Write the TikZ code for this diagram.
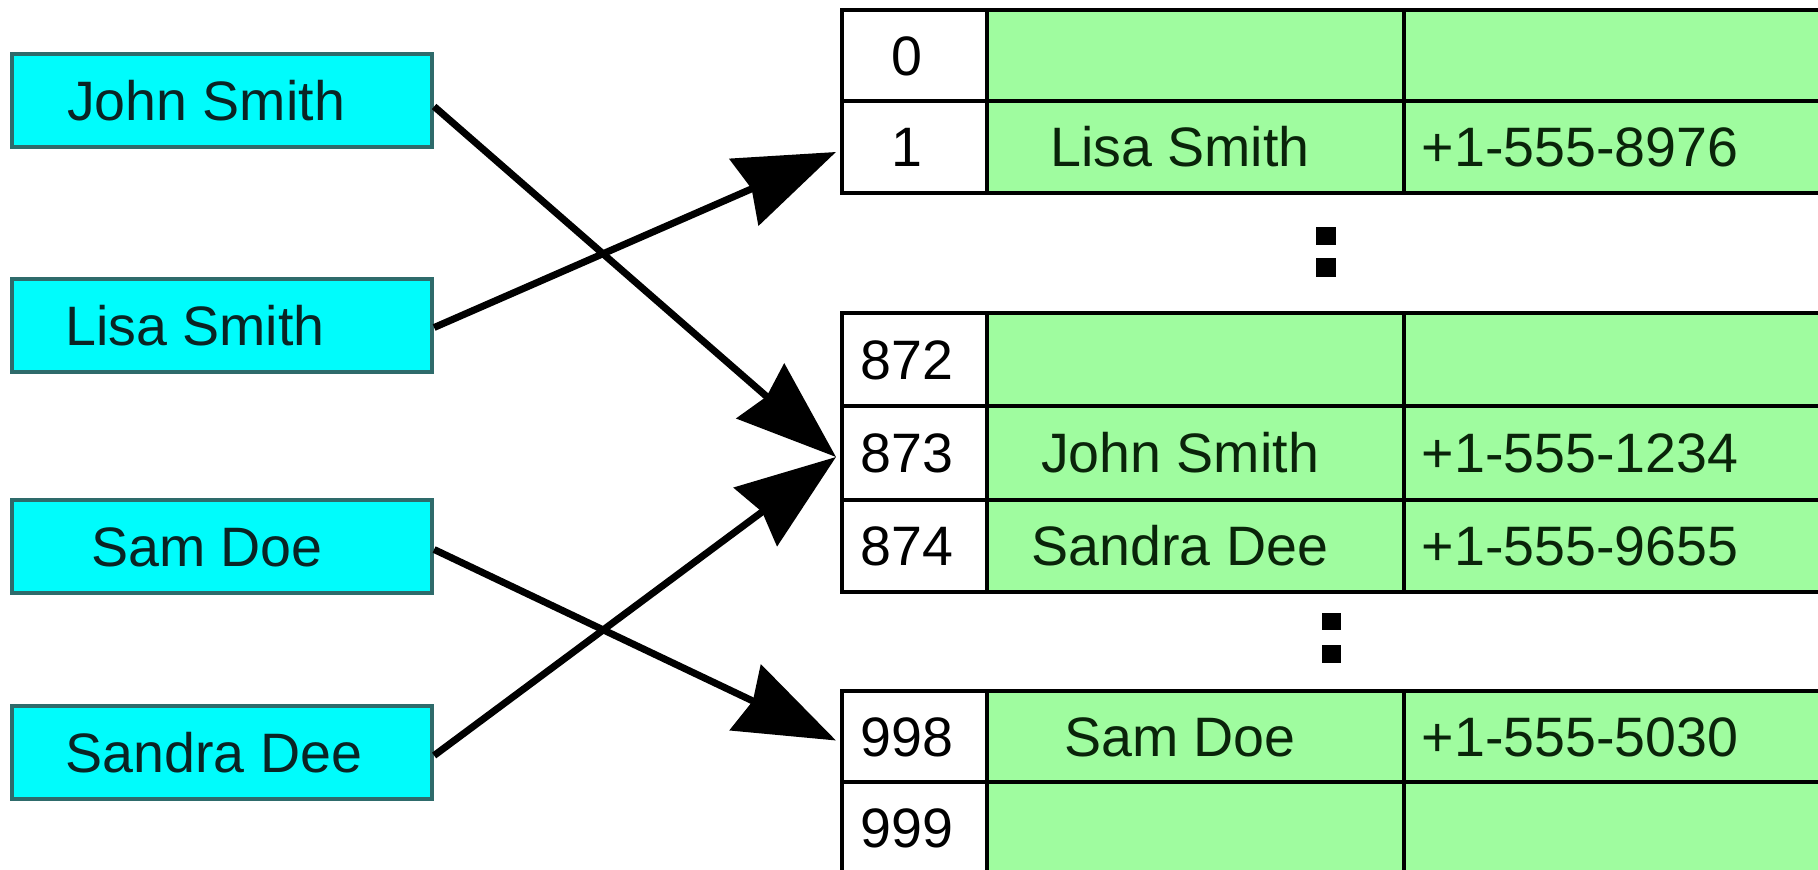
\documentclass[tikz,border=0pt]{standalone}
\usepackage{fontspec}
\setmainfont{Liberation Sans}
\usetikzlibrary{arrows.meta,calc,fit}
\definecolor{cyanfill}{HTML}{00FCFC}
\definecolor{cyanborder}{HTML}{2E6B6B}
\definecolor{greenfill}{HTML}{9FFC9F}
\definecolor{tealtext}{HTML}{0A2424}
\definecolor{greentext}{HTML}{0A240A}
\newcommand\tabrow[6]{%
  \node[idxcell, fit={(842,#2)(987,#3)}] (#1i) {};
  \node[grncell, fit={(987,#2)(1404,#3)}] (#1n) {};
  \node[grncell, fit={(1404,#2)(1850,#3)}] (#1p) {};
  \node[txt] (#1it) at (907,{(#2+#3)/2}) {#4};
  \node[txt, text=greentext] (#1nt) at (1180,{(#2+#3)/2}) {#5};
  \node[txt, text=greentext, anchor=west] (#1pt) at (1421,{(#2+#3)/2}) {#6};
}
\newcommand\emptyrow[4]{%
  \node[idxcell, fit={(842,#2)(987,#3)}] (#1i) {};
  \node[grncell, fit={(987,#2)(1404,#3)}] (#1n) {};
  \node[grncell, fit={(1404,#2)(1850,#3)}] (#1p) {};
  \node[txt] (#1it) at (907,{(#2+#3)/2}) {#4};
}
\begin{document}
\begin{tikzpicture}[x=0.01cm,y=-0.01cm,
  lbox/.style={draw=cyanborder, fill=cyanfill, line width=0.04cm, minimum width=4.2cm, minimum height=0.93cm, inner sep=0pt},
  txt/.style={inner sep=0pt, font=\fontsize{15.8}{19}\selectfont, text height=11.3pt, text depth=0pt},
  cell/.style={draw=black, line width=0.04cm, inner sep=0pt},
  idxcell/.style={cell, fill=white},
  grncell/.style={cell, fill=greenfill},
  arr/.style={line width=0.07cm, -{Stealth[length=1cm,width=0.72cm,inset=0.08cm]}},
]
\useasboundingbox (0,0) rectangle (1818,870);
\clip (0,0) rectangle (1818,870);
\fill[white] (0,0) rectangle (1818,870);

% table
\emptyrow{r0}{10}{101}{0}
\tabrow{r1}{101}{193}{1}{Lisa Smith}{+1-555-8976}
\emptyrow{r872}{313}{406}{872}
\tabrow{r873}{406}{500}{873}{John Smith}{+1-555-1234}
\tabrow{r874}{500}{592}{874}{Sandra Dee}{+1-555-9655}
\tabrow{r998}{691}{782}{998}{Sam Doe}{+1-555-5030}
\emptyrow{r999}{782}{874}{999}

% ellipsis dots
\fill[black] (1316,227) rectangle (1336,245);
\fill[black] (1316,258) rectangle (1336,277);
\fill[black] (1322,613) rectangle (1341,630);
\fill[black] (1322,645) rectangle (1341,663);

% keys
\node[lbox] (john) at (222,100.5) {};
\node[txt, text=tealtext] (johnT) at (206,100.5) {John Smith};
\node[lbox] (lisa) at (222,325.5) {};
\node[txt, text=tealtext] (lisaT) at (195,325.5) {Lisa Smith};
\node[lbox] (sam) at (222,546.5) {};
\node[txt, text=tealtext] (samT) at (207,546.5) {Sam Doe};
\node[lbox] (sandra) at (222,752.5) {};
\node[txt, text=tealtext] (sandraT) at (214,752.5) {Sandra Dee};

% arrows
\draw[arr] ($(john.east)+(0,6)$) -- ($(r873i.west)+(-4,4)$);
\draw[arr] ($(lisa.east)+(0,2)$) -- ($(r1i.west)+(-4,5)$);
\draw[arr] ($(sam.east)+(0,3)$) -- ($(r998i.west)+(-4,4)$);
\draw[arr] ($(sandra.east)+(0,3)$) -- ($(r873i.west)+(-4,4)$);
\end{tikzpicture}
\end{document}
